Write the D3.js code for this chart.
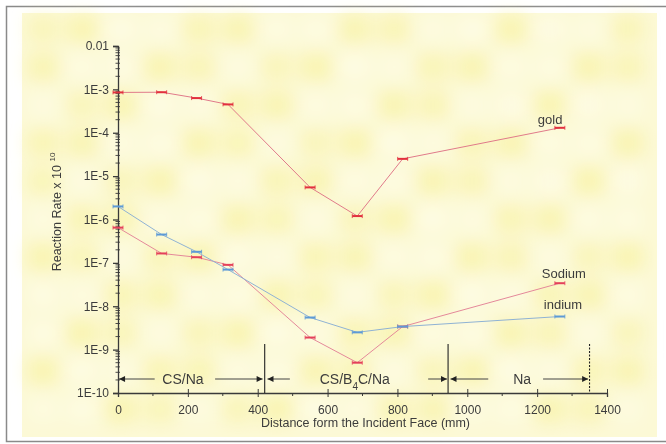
<!DOCTYPE html>
<html>
<head>
<meta charset="utf-8">
<script src="https://cdn.jsdelivr.net/npm/d3@7"></script>
<style>
  body { margin: 0; background: #fff; }
  svg { display: block; font-family: "Liberation Sans", Arial, sans-serif; }
</style>
</head>
<body>
<div id="chart"></div>
<script>
// Data
const distances = [0, 125, 225, 315, 550, 685, 815, 1265];
const goldRates = [8.5e-4, 8.6e-4, 6.3e-4, 4.5e-4, 5.5e-6, 1.2e-6, 2.5e-5, 1.3e-4];
const sodiumRates = [6.5e-7, 1.65e-7, 1.35e-7, 9e-8, 1.9e-9, 5e-10, 3.4e-9, 3.4e-8];
const indiumRates = [2e-6, 4.5e-7, 1.8e-7, 7e-8, 5.5e-9, 2.5e-9, 3.4e-9, 5.8e-9];
const yTickValues = [1e-2, 1e-3, 1e-4, 1e-5, 1e-6, 1e-7, 1e-8, 1e-9, 1e-10];
const yTickLabels = ["0.01", "1E-3", "1E-4", "1E-5", "1E-6", "1E-7", "1E-8", "1E-9", "1E-10"];
const xTickValues = [0, 200, 400, 600, 800, 1000, 1200, 1400];
const boundaries = [420, 945, 1350];
const regionNames = ["CS/Na", "CS/B4C/Na", "Na"];
const regionCenters = [186, 678, 1157];

const width = 666, height = 444;
const margin = { left: 118, right: 59, top: 46, bottom: 51 };

const svg = d3.select("#chart").append("svg")
  .attr("width", width)
  .attr("height", height);

const defs = svg.append("defs");
defs.append("filter").attr("id", "blur")
  .attr("x", "-50%").attr("y", "-50%").attr("width", "200%").attr("height", "200%")
  .append("feGaussianBlur").attr("stdDeviation", 9);

// scanned page look: frame + yellow mottled paper
svg.append("rect")
  .attr("x", 6.5).attr("y", 6.5)
  .attr("width", 680).attr("height", 435)
  .attr("fill", "#fff").attr("stroke", "#8a8a8a").attr("stroke-width", 1.5);

const bg = svg.append("g");
bg.append("rect")
  .attr("x", 22).attr("y", 13).attr("width", 635).attr("height", 424)
  .attr("fill", "#fcf9d6");
const blot = bg.append("g").attr("filter", "url(#blur)");
for (let gx = 0; gx < 16; gx++) {
  for (let gy = 0; gy < 11; gy++) {
    const k = Math.sin(gx * 1.7 + gy * 2.3) * 0.5 + 0.5;
    blot.append("rect")
      .attr("x", 28 + gx * 39).attr("y", 16 + gy * 38)
      .attr("width", 30).attr("height", 26)
      .attr("fill", k > 0.45 ? "#f8f2a0" : "#fffef0")
      .attr("opacity", 0.35 + 0.35 * k);
  }
}

const x = d3.scaleLinear().domain([0, 1400]).range([margin.left, width - margin.right]);
const y = d3.scaleLog().domain([1e-10, 1e-2]).range([height - margin.bottom, margin.top]);

const axisColor = "#3a3a3a";
const textColor = "#3c3c3c";

// X axis
const xAxis = svg.append("g")
  .attr("transform", `translate(0,${y(1e-10)})`)
  .call(d3.axisBottom(x).tickValues(xTickValues).tickSize(4).tickPadding(8).tickFormat(d3.format("d")));
xAxis.select(".domain").attr("stroke", axisColor).attr("stroke-width", 1.3);
xAxis.selectAll(".tick line").attr("stroke", axisColor).attr("y1", -4);
xAxis.selectAll(".tick text").attr("fill", textColor).attr("font-size", 12);
svg.append("g").selectAll("line")
  .data(d3.range(100, 1400, 200))
  .join("line")
  .attr("x1", d => x(d)).attr("x2", d => x(d))
  .attr("y1", y(1e-10)).attr("y2", y(1e-10) + 3)
  .attr("stroke", axisColor);

// Y axis
const yAxis = svg.append("g")
  .attr("transform", `translate(${x(0)},0)`)
  .call(d3.axisLeft(y).tickValues(yTickValues).tickSize(5).tickPadding(4)
    .tickFormat((d, i) => yTickLabels[i]));
yAxis.select(".domain").attr("stroke", axisColor).attr("stroke-width", 1.3);
yAxis.selectAll(".tick line").attr("stroke", axisColor).attr("stroke-width", 1.3);
yAxis.selectAll(".tick text").attr("fill", textColor).attr("font-size", 12);
const minorY = [];
for (let e = -10; e < -2; e++) for (let m = 2; m <= 9; m++) minorY.push(m * Math.pow(10, e));
svg.append("g").selectAll("line")
  .data(minorY)
  .join("line")
  .attr("x1", x(0) - 2.5).attr("x2", x(0) + 2)
  .attr("y1", d => y(d)).attr("y2", d => y(d))
  .attr("stroke", axisColor).attr("stroke-width", 0.9);

// Axis titles
svg.append("text")
  .attr("x", x(700) + 3).attr("y", 427)
  .attr("text-anchor", "middle")
  .attr("font-size", 12.5).attr("fill", textColor)
  .text("Distance form the Incident Face (mm)");

const yt = svg.append("text")
  .attr("transform", `translate(61,${212}) rotate(-90)`)
  .attr("text-anchor", "middle")
  .attr("font-size", 12.5).attr("fill", textColor);
yt.append("tspan").text("Reaction Rate x 10 ");
yt.append("tspan").attr("dy", -6).attr("font-size", 8).text("10");

// Region boundaries and arrows
const bTop = 344, bBot = y(1e-10);
svg.append("g").selectAll("line")
  .data(boundaries)
  .join("line")
  .attr("x1", d => x(d)).attr("x2", d => x(d))
  .attr("y1", bTop).attr("y2", bBot)
  .attr("stroke", "#222").attr("stroke-width", 1.1)
  .attr("stroke-dasharray", (d, i) => i === 2 ? "2,1.5" : null);

defs.append("marker").attr("id", "ah")
  .attr("viewBox", "0 0 10 10").attr("refX", 10).attr("refY", 5)
  .attr("markerWidth", 9).attr("markerHeight", 6).attr("orient", "auto")
  .attr("markerUnits", "userSpaceOnUse")
  .append("path").attr("d", "M0,0L10,5L0,10Z").attr("fill", "#222");

const arrowY = 379;
const arrows = [
  [105, 3], [278, 414],
  [492, 428], [888, 942],
  [1060, 952], [1217, 1346]
];
svg.append("g").selectAll("line")
  .data(arrows)
  .join("line")
  .attr("x1", d => x(d[0])).attr("x2", d => x(d[1]))
  .attr("y1", arrowY).attr("y2", arrowY)
  .attr("stroke", "#444").attr("stroke-width", 1)
  .attr("marker-end", "url(#ah)");

const rl = svg.append("g").selectAll("text")
  .data(regionNames)
  .join("text")
  .attr("x", (d, i) => x(regionCenters[i]))
  .attr("y", arrowY + 5)
  .attr("text-anchor", "middle")
  .attr("font-size", 14).attr("fill", textColor);
rl.each(function(d) {
  const t = d3.select(this);
  if (d === "CS/B4C/Na") {
    t.append("tspan").text("CS/B");
    t.append("tspan").attr("dy", 6).attr("font-size", 10).text("4");
    t.append("tspan").attr("dy", -6).text("C/Na");
  } else {
    t.text(d);
  }
});

// Series
const series = [
  { name: "gold", values: goldRates, line: "#e07a8a", mark: "#e2303e", label: [1265, 1.6e-4], dx: -22 },
  { name: "Sodium", values: sodiumRates, line: "#e4889a", mark: "#e4405a", label: [1265, 4.5e-8], dx: -18 },
  { name: "indium", values: indiumRates, line: "#8fb2d4", mark: "#5d9ad6", label: [1265, 8.5e-9], dx: -16 }
];

const line = d3.line()
  .x((d, i) => x(distances[i]))
  .y(d => y(d));

const sg = svg.append("g");
series.forEach(s => {
  sg.append("path")
    .datum(s.values)
    .attr("d", line)
    .attr("fill", "none")
    .attr("stroke", s.line)
    .attr("stroke-width", 1);
  const m = sg.append("g").selectAll("g")
    .data(s.values)
    .join("g")
    .attr("transform", (d, i) => `translate(${x(distances[i])},${y(d)})`);
  m.append("line")
    .attr("x1", -5).attr("x2", 5).attr("y1", 0).attr("y2", 0)
    .attr("stroke", s.mark).attr("stroke-width", 2);
  m.append("path")
    .attr("d", "M-5,-2V2M5,-2V2")
    .attr("stroke", s.mark).attr("stroke-width", 0.8).attr("fill", "none");
  sg.append("text")
    .attr("x", x(s.label[0]) + s.dx)
    .attr("y", y(s.label[1]))
    .attr("font-size", 13).attr("fill", textColor)
    .text(s.name);
});
</script>
</body>
</html>
